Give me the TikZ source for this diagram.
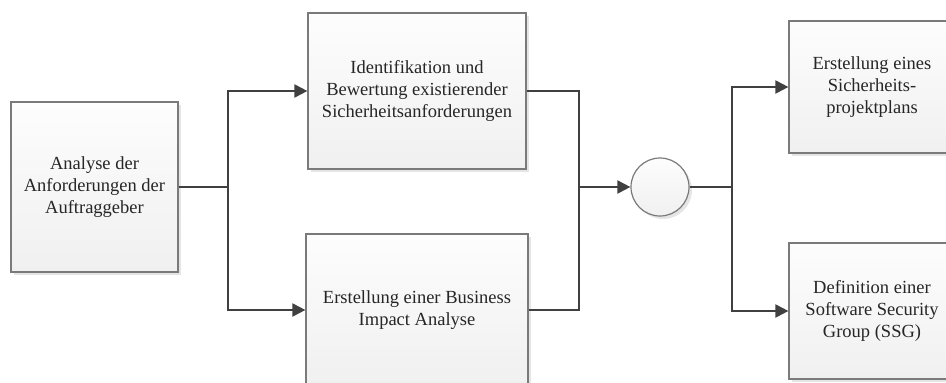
\documentclass[tikz,border=0pt]{standalone}
\usepackage{fontspec}
\setmainfont{Liberation Serif}
\usetikzlibrary{arrows.meta,shadows}
\definecolor{boxline}{HTML}{7A7A7A}
\definecolor{conn}{HTML}{404040}
\definecolor{boxbottom}{HTML}{F0F0F0}
\definecolor{boxtop}{HTML}{FDFDFD}
\definecolor{txt}{HTML}{262626}
\begin{document}
\begin{tikzpicture}[x=1pt,y=-1pt,
  box/.style={draw=boxline, line width=1.2pt, top color=boxtop, bottom color=boxbottom,
    middle color=boxtop!50!boxbottom,
    drop shadow={shadow xshift=3pt, shadow yshift=-3pt, fill=black, opacity=0.10},
    align=center, text=txt, inner sep=0pt,
    font=\fontsize{18.5}{22}\selectfont},
  conn/.style={draw=conn, line width=2pt},
  arr/.style={conn, -{Triangle[length=13pt,width=13pt]}}]
\useasboundingbox (0,0) rectangle (946,383);
\node[box, minimum width=167pt, minimum height=170pt] (A) at (94.5,187)
  {Analyse der\\Anforderungen der\\Auftraggeber};
\node[box, minimum width=218pt, minimum height=156pt] (B) at (417,91)
  {Identifikation und\\Bewertung existierender\\Sicherheitsanforderungen};
\node[box, minimum width=222pt, minimum height=152pt] (C) at (417,310)
  {Erstellung einer Business\\Impact Analyse};
\node[box, circle, minimum size=58pt] (O) at (660,187) {};
\node[box, minimum width=166pt, minimum height=132pt] (D) at (872,87)
  {Erstellung eines\\Sicherheits-\\projektplans};
\node[box, minimum width=166pt, minimum height=136pt] (E) at (872,311)
  {Definition einer\\Software Security\\Group (SSG)};
\coordinate (j1) at (228,187);
\coordinate (j2) at (579,187);
\coordinate (j3) at (732,187);
\draw[conn] (A.east) -- (j1);
\draw[arr] (j1) |- (B.west);
\draw[arr] (j1) |- (C.west);
\draw[conn] (B.east) -| (j2);
\draw[conn] (C.east) -| (j2);
\draw[arr] (j2) -- (O.west);
\draw[conn] (O.east) -- (j3);
\draw[arr] (j3) |- (D.west);
\draw[arr] (j3) |- (E.west);
\end{tikzpicture}
\end{document}
